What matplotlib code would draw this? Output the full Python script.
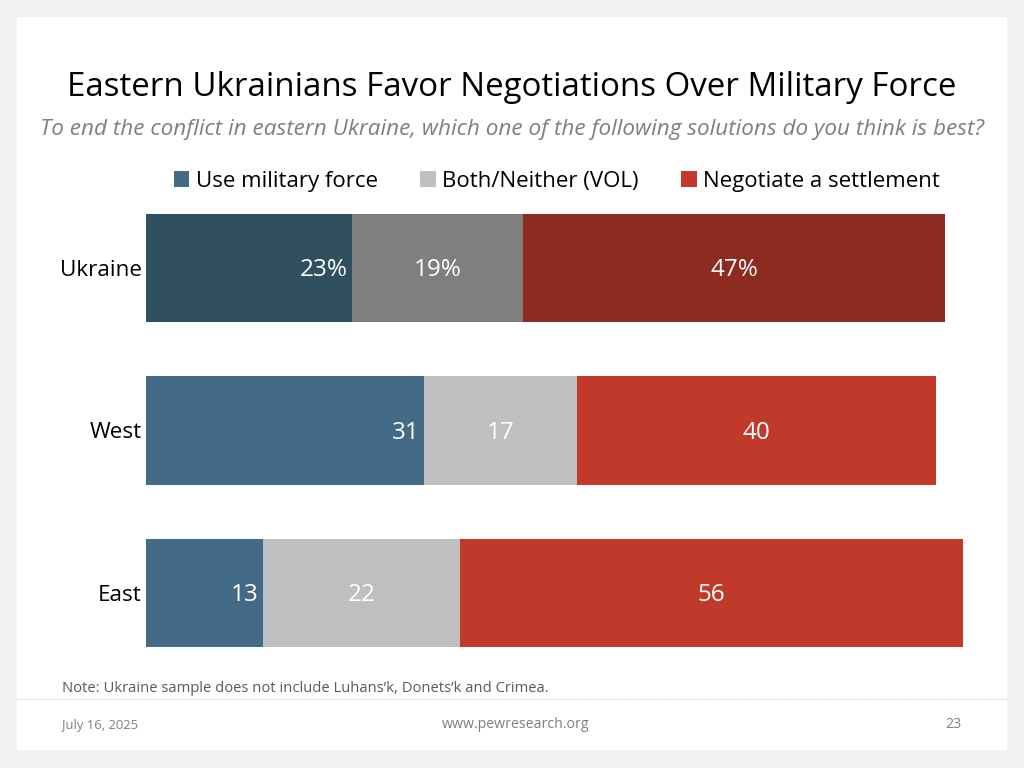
import numpy as np
import matplotlib
matplotlib.use("Agg")
import matplotlib.pyplot as plt
from matplotlib.patches import Rectangle, Patch

plt.rcParams["font.family"] = ["Open Sans", "DejaVu Sans"]

# ─── DATA ─────────────────────────────────────────────────────────────────────
regions = ["Ukraine", "West", "East"]
series = ["Use military force", "Both/Neither (VOL)", "Negotiate a settlement"]
military = [23, 31, 13]
neither = [19, 17, 22]
negotiate = [47, 40, 56]

# Ukraine row is drawn in darker shades
dark_colors = ["#31505f", "#7f7f7f", "#8c2b1f"]
light_colors = ["#436a86", "#bfbfbf", "#c0392a"]

W, H = 1024, 768
fig = plt.figure(figsize=(W / 100, H / 100), dpi=100, facecolor="#f2f2f2")

# white slide
fig.patches.append(Rectangle((17 / W, 18 / H), 990 / W, 733 / H,
                             transform=fig.transFigure, facecolor="white",
                             edgecolor="none", zorder=-5))

ax = fig.add_axes([146 / W, 1 - 647 / H, 817 / W, 433 / H])
ax.set_zorder(2)
ax.set_facecolor("none")

y = np.arange(len(regions))
bh = 108 / 162
dy = 2 / 162  # nudge labels down a touch
vals = [military, neither, negotiate]
left = np.zeros(len(regions))
for k, v in enumerate(vals):
    v = np.array(v, dtype=float)
    cols = [dark_colors[k] if i == 0 else light_colors[k] for i in range(len(regions))]
    ax.barh(y, v, left=left, height=bh, color=cols, edgecolor="none")
    for i in range(len(regions)):
        lab = f"{int(v[i])}%" if i == 0 else f"{int(v[i])}"
        if k == 0:
            ax.text(left[i] + v[i] - 0.5, y[i] + dy, lab, ha="right", va="center",
                    color="white", fontsize=17.5)
        else:
            ax.text(left[i] + v[i] / 2, y[i] + dy, lab, ha="center", va="center",
                    color="white", fontsize=17.5)
    left += v

ax.set_xlim(0, 91)
ax.set_ylim(len(regions) - 1 + bh / 2, -bh / 2)
ax.set_yticks(y)
ax.set_yticklabels(regions, fontsize=16.2)
ax.tick_params(axis="y", length=0, pad=3)
ax.set_xticks([])
for s in ax.spines.values():
    s.set_visible(False)

# titles
fig.text(512 / W, 1 - 87 / H, "Eastern Ukrainians Favor Negotiations Over Military Force",
         ha="center", va="center", fontsize=23.75, color="black")
fig.text(512 / W, 1 - 130 / H,
         "To end the conflict in eastern Ukraine, which one of the following solutions do you think is best?",
         ha="center", va="center", fontsize=16.2, style="italic", color="#7f7f7f")

# legend
handles = [Patch(facecolor=c, edgecolor="none") for c in light_colors]
fig.legend(handles, series, loc="center", bbox_to_anchor=(557 / W, 1 - 181 / H),
           ncol=3, frameon=False, fontsize=16, handlelength=0.7, handleheight=0.7,
           handletextpad=0.3, columnspacing=1.9)

# note + footer
fig.text(62 / W, 1 - 689 / H, "Note: Ukraine sample does not include Luhans\u2019k, Donets\u2019k and Crimea.",
         ha="left", va="center", fontsize=10.6, color="#595959")
fig.add_artist(plt.Line2D([17 / W, 1007 / W], [1 - 699 / H, 1 - 699 / H],
                          transform=fig.transFigure, color="#d0d0d0",
                          linewidth=0.8, linestyle=(0, (1, 1))))
fig.text(62 / W, 1 - 725 / H, "July 16, 2025", ha="left", va="center",
         fontsize=9.4, color="#7f7f7f")
fig.text(516 / W, 1 - 725 / H, "www.pewresearch.org", ha="center", va="center",
         fontsize=10.2, color="#7f7f7f")
fig.text(962 / W, 1 - 725 / H, "23", ha="right", va="center",
         fontsize=10.2, color="#7f7f7f")

fig.savefig("out.png", dpi=100, facecolor=fig.get_facecolor())
